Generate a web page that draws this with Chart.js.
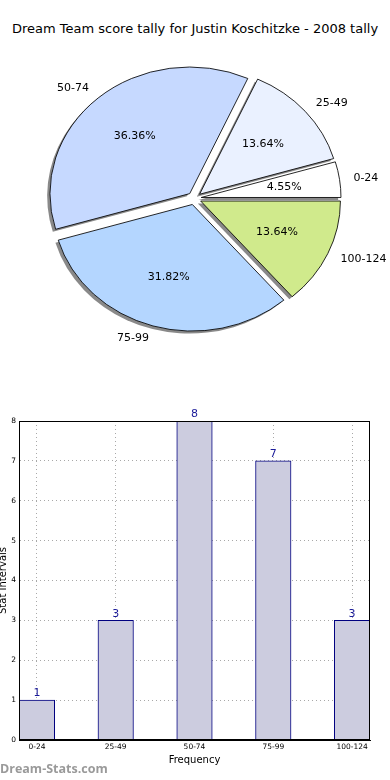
<!DOCTYPE html>
<html>
<head>
<meta charset="utf-8">
<script src="https://cdn.jsdelivr.net/npm/chart.js@4.4.0/dist/chart.umd.min.js"></script>
<style>
  body { margin: 0; background: #fff; width: 390px; height: 780px; position: relative; overflow: hidden; font-family: "DejaVu Sans", sans-serif; }
  #title { position: absolute; top: 21px; left: 0; width: 390px; text-align: center; font-size: 13px; color: #000; }
  #pieChart { position: absolute; left: 0; top: 0; }
  #barChart { position: absolute; left: 0; top: 400px; }
  #mark { position: absolute; left: 0; top: 760px; font-family: "Open Sans", sans-serif; font-size: 12.5px; font-weight: bold; color: #9a9a9a; }
</style>
</head>
<body>
<div id="title">Dream Team score tally for Justin Koschitzke - 2008 tally</div>
<canvas id="pieChart" width="390" height="390"></canvas>
<canvas id="barChart" width="390" height="380"></canvas>
<div id="mark">Dream-Stats.com</div>
<script>
const categories = ['0-24', '25-49', '50-74', '75-99', '100-124'];
const counts = [1, 3, 8, 7, 3];
const yTicks = [0, 1, 2, 3, 4, 5, 6, 7, 8];
const xTicks = [0, 1, 2, 3, 4];

const sliceColors = ['#ffffff', '#eaf1ff', '#c6d9ff', '#b4d6ff', '#d0ea8c'];
const total = counts.reduce((a, b) => a + b, 0);

// matplotlib goes counter clockwise from 3 o'clock, chart.js clockwise, so flip the order
const pieOrder = [4, 3, 2, 1, 0];
const R = 126.6;      // vertical radius
const SX = 1.104;     // pie is stretched sideways
const EXPLODE = 0.05;

const ellipsePie = {
  id: 'ellipsePie',
  beforeDatasetsDraw(chart) {
    const ctx = chart.ctx;
    const arcs = chart.getDatasetMeta(0).data;
    const cx = arcs[0].x, cy = arcs[0].y;
    ctx.save();
    ctx.translate(cx, cy);
    ctx.scale(SX, 1);
    ctx.translate(-cx, -cy);

    // shadows under every wedge
    ctx.save();
    ctx.translate(-0.02 * R, 0.02 * R);
    ctx.fillStyle = 'rgba(40,40,40,0.55)';
    arcs.forEach(a => {
      const mid = (a.startAngle + a.endAngle) / 2;
      const ox = a.x + Math.cos(mid) * EXPLODE * R;
      const oy = a.y + Math.sin(mid) * EXPLODE * R;
      ctx.beginPath();
      ctx.moveTo(ox, oy);
      ctx.arc(ox, oy, a.outerRadius, a.startAngle, a.endAngle);
      ctx.closePath();
      ctx.fill();
    });
    ctx.restore();

    // push each wedge out from the centre
    arcs.forEach(a => {
      if (a._exploded) return;
      a._exploded = true;
      a.draw = function (c) {
        const mid = (this.startAngle + this.endAngle) / 2;
        c.save();
        c.translate(Math.cos(mid) * EXPLODE * R, Math.sin(mid) * EXPLODE * R);
        Chart.ArcElement.prototype.draw.call(this, c);
        c.restore();
      };
    });
  },
  afterDatasetsDraw(chart) {
    const ctx = chart.ctx;
    ctx.restore();
    const arcs = chart.getDatasetMeta(0).data;
    ctx.save();
    ctx.fillStyle = '#000';
    ctx.font = '11px "DejaVu Sans"';
    ctx.textBaseline = 'middle';
    arcs.forEach((a, i) => {
      const k = pieOrder[i];
      const mid = (a.startAngle + a.endAngle) / 2;
      const c = Math.cos(mid), s = Math.sin(mid);
      let d = (1.1 + EXPLODE) * R;
      ctx.textAlign = c >= 0 ? 'left' : 'right';
      ctx.fillText(categories[k], a.x + c * d * SX, a.y + s * d);
      d = (0.6 + EXPLODE) * R;
      ctx.textAlign = 'center';
      ctx.fillText((counts[k] / total * 100).toFixed(2) + '%', a.x + c * d * SX, a.y + s * d);
    });
    ctx.restore();
  }
};

new Chart(document.getElementById('pieChart'), {
  type: 'pie',
  data: {
    labels: pieOrder.map(i => categories[i]),
    datasets: [{
      data: pieOrder.map(i => counts[i]),
      backgroundColor: pieOrder.map(i => sliceColors[i]),
      borderColor: '#000',
      borderWidth: 0.8,
      clip: false
    }]
  },
  options: {
    responsive: false,
    animation: false,
    rotation: 90,
    radius: R,
    layout: { padding: { left: 0, right: 1.4, top: 6.8, bottom: 0 } },
    plugins: { legend: { display: false }, tooltip: { enabled: false } }
  },
  plugins: [ellipsePie]
});

const barLabels = {
  id: 'barLabels',
  afterDraw(chart) {
    const ctx = chart.ctx;
    const area = chart.chartArea;
    ctx.save();
    ctx.strokeStyle = '#000';
    ctx.lineWidth = 1;
    ctx.strokeRect(area.left + 0.5, area.top + 0.5, area.right - area.left - 1, area.bottom - area.top - 1);
    ctx.fillStyle = '#1a1a99';
    ctx.font = '11px "DejaVu Sans"';
    ctx.textAlign = 'center';
    ctx.textBaseline = 'bottom';
    chart.getDatasetMeta(0).data.forEach((bar, i) => {
      ctx.fillText(String(counts[i]), bar.x, bar.y - 1);
    });
    ctx.restore();
  }
};

new Chart(document.getElementById('barChart'), {
  type: 'bar',
  data: {
    datasets: [{
      data: counts.map((v, i) => ({ x: i, y: v })),
      backgroundColor: '#ccccdf',
      borderColor: '#000080',
      borderWidth: 1,
      barThickness: 35.5
    }]
  },
  options: {
    responsive: false,
    animation: false,
    layout: { padding: { left: 0, right: 20, top: 21, bottom: 0 } },
    plugins: { legend: { display: false }, tooltip: { enabled: false } },
    scales: {
      x: {
        type: 'linear',
        offset: false,
        z: 1,
        min: -0.2275,
        max: 4.2275,
        afterFit: s => { s.height = 40; },
        afterBuildTicks: s => { s.ticks = xTicks.map(v => ({ value: v })); },
        ticks: {
          autoSkip: false,
          maxRotation: 0,
          padding: 3,
          color: '#000',
          font: { size: 7.5, family: 'DejaVu Sans' },
          callback: v => categories[v] ?? ''
        },
        grid: { color: '#a8a8a8', drawTicks: false, offset: false },
        border: { dash: [1, 3], color: '#000' },
        title: { display: true, text: 'Frequency', color: '#000', font: { size: 10, family: 'DejaVu Sans' }, padding: { top: 4, bottom: 14 } }
      },
      y: {
        min: 0,
        max: 8,
        z: 1,
        afterFit: s => { s.width = 19; },
        afterBuildTicks: s => { s.ticks = yTicks.map(v => ({ value: v })); },
        ticks: {
          padding: 3,
          color: '#000',
          font: { size: 7.5, family: 'DejaVu Sans' }
        },
        grid: { color: '#a8a8a8', drawTicks: false },
        border: { dash: [1, 3], color: '#000' },
        title: { display: true, text: 'Stat Intervals', color: '#000', font: { size: 10, family: 'DejaVu Sans' }, padding: { top: -3, bottom: 0 } }
      }
    }
  },
  plugins: [barLabels]
});
</script>
</body>
</html>
